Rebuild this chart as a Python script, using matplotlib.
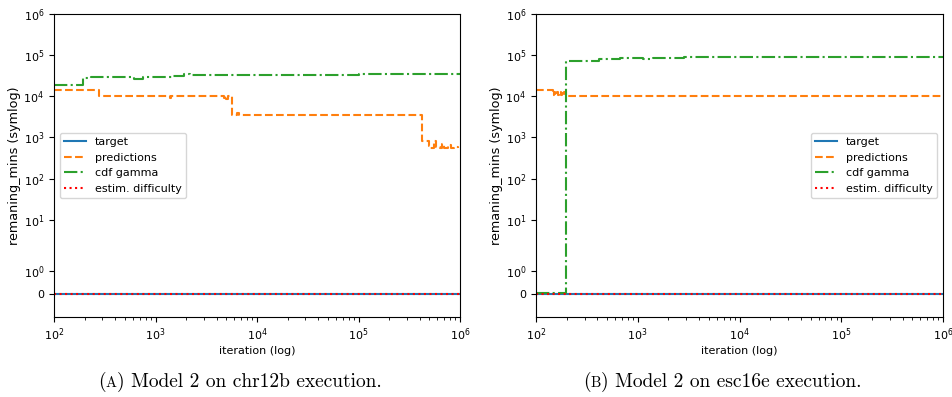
import matplotlib
matplotlib.use("Agg")
import matplotlib.pyplot as plt
from matplotlib.offsetbox import TextArea, HPacker, AnnotationBbox
import numpy as np

# ---------------- data ----------------
# Panel A: Model 2 on chr12b
a_target_x = [100, 1e6]
a_target_y = [0, 0]
a_pred_x = [100, 280, 1380, 1420, 4700, 4800, 5000, 5200, 5650, 6400, 6600,
            4.25e5, 4.9e5, 5.1e5, 5.6e5, 5.8e5, 6.3e5, 6.6e5, 7.0e5, 7.6e5,
            8.2e5, 8.8e5, 9.5e5]
a_pred_y = [1.4e4, 1.0e4, 9.0e3, 1.0e4, 9.0e3, 1.0e4, 8.8e3, 1.0e4, 3.6e3, 4.0e3, 3.6e3,
            800, 620, 560, 800, 600, 560, 700, 560, 650, 560, 600, 560]
a_cdf_x = [100, 195, 230, 300, 620, 760, 900, 1500, 1900, 2200, 1e4, 1e5, 1e6]
a_cdf_y = [1.9e4, 2.8e4, 2.9e4, 3.0e4, 2.6e4, 2.9e4, 3.0e4, 3.1e4, 3.4e4, 3.3e4,
           3.3e4, 3.4e4, 3.45e4]
a_diff_x = [100, 1e6]
a_diff_y = [0, 0]

# Panel B: Model 2 on esc16e
b_target_x = [100, 1e6]
b_target_y = [0, 0]
b_pred_x = [100, 146, 150, 155, 160, 165, 170, 175, 180, 185, 190, 197, 1e6]
b_pred_y = [1.4e4, 1.1e4, 1.3e4, 1.1e4, 1.25e4, 1.1e4, 1.3e4, 1.1e4, 1.2e4,
            1.1e4, 1.25e4, 1.0e4, 1.0e4]
b_cdf_x = [100, 197, 270, 416, 670, 1125, 1400, 2840, 1e4, 1e5, 1e6]
b_cdf_y = [0.05, 7.1e4, 7.4e4, 8.2e4, 8.3e4, 7.9e4, 8.4e4, 9.0e4, 9.2e4, 9.2e4, 9.2e4]
b_diff_x = [100, 1e6]
b_diff_y = [0, 0]

labels = ["target", "predictions", "cdf gamma", "estim. difficulty"]
y_ticks = [0, 1, 10, 100, 1e3, 1e4, 1e5, 1e6]
y_ticklabels = ["0", r"$10^{0}$", r"$10^{1}$", r"$10^{2}$", r"$10^{3}$",
                r"$10^{4}$", r"$10^{5}$", r"$10^{6}$"]

panels = [
    dict(tx=a_target_x, ty=a_target_y, px=a_pred_x, py=a_pred_y,
         cx=a_cdf_x, cy=a_cdf_y, dx=a_diff_x, dy=a_diff_y,
         loc="center left", cap_letter="A", cap_rest=") Model 2 on chr12b execution."),
    dict(tx=b_target_x, ty=b_target_y, px=b_pred_x, py=b_pred_y,
         cx=b_cdf_x, cy=b_cdf_y, dx=b_diff_x, dy=b_diff_y,
         loc="center right", cap_letter="B", cap_rest=") Model 2 on esc16e execution."),
]

W, H = 952, 397
fig = plt.figure(figsize=(W / 100, H / 100), dpi=100)
axes_px = [(54, 460), (536, 943)]
top_px, bot_px = 14, 317
cap_centers = [240, 722]
cap_y = 382

for (x0, x1), p, cx in zip(axes_px, panels, cap_centers):
    ax = fig.add_axes([x0 / W, (H - bot_px) / H, (x1 - x0) / W, (bot_px - top_px) / H])
    ax.plot(p["tx"], p["ty"], color="C0", lw=1.5, ls="-", label=labels[0],
            drawstyle="steps-post")
    ax.plot(p["px"], p["py"], color="C1", lw=1.5, ls="--", label=labels[1],
            drawstyle="steps-post")
    ax.plot(p["cx"], p["cy"], color="C2", lw=1.5, ls="-.", label=labels[2],
            drawstyle="steps-post")
    ax.plot(p["dx"], p["dy"], color="red", lw=1.5, ls=":", label=labels[3],
            drawstyle="steps-post")
    ax.set_xscale("log")
    ax.set_yscale("symlog", linthresh=2, linscale=1)
    ax.set_xlim(100, 1e6)
    ax.set_ylim(-1, 1e6)
    ax.set_yticks(y_ticks)
    ax.set_yticklabels(y_ticklabels)
    ax.yaxis.set_minor_locator(matplotlib.ticker.NullLocator())
    ax.tick_params(labelsize=8)
    ax.set_xlabel("iteration (log)", fontsize=8, labelpad=2)
    ax.set_ylabel("remaning_mins (symlog)", fontsize=9.2, labelpad=2)
    ax.legend(loc=p["loc"], fontsize=8)

    # caption with small-caps letter
    t1 = TextArea("(", textprops=dict(family="cmr10", size=14))
    t2 = TextArea(p["cap_letter"], textprops=dict(family="cmr10", size=10.5))
    t3 = TextArea(p["cap_rest"], textprops=dict(family="cmr10", size=14))
    box = HPacker(children=[t1, t2, t3], align="baseline", pad=0, sep=0)
    ab = AnnotationBbox(box, (cx / W, 1 - cap_y / H), xycoords="figure fraction",
                        box_alignment=(0.5, 0.5), frameon=False, pad=0)
    fig.add_artist(ab)

fig.savefig("out.png", dpi=100)
